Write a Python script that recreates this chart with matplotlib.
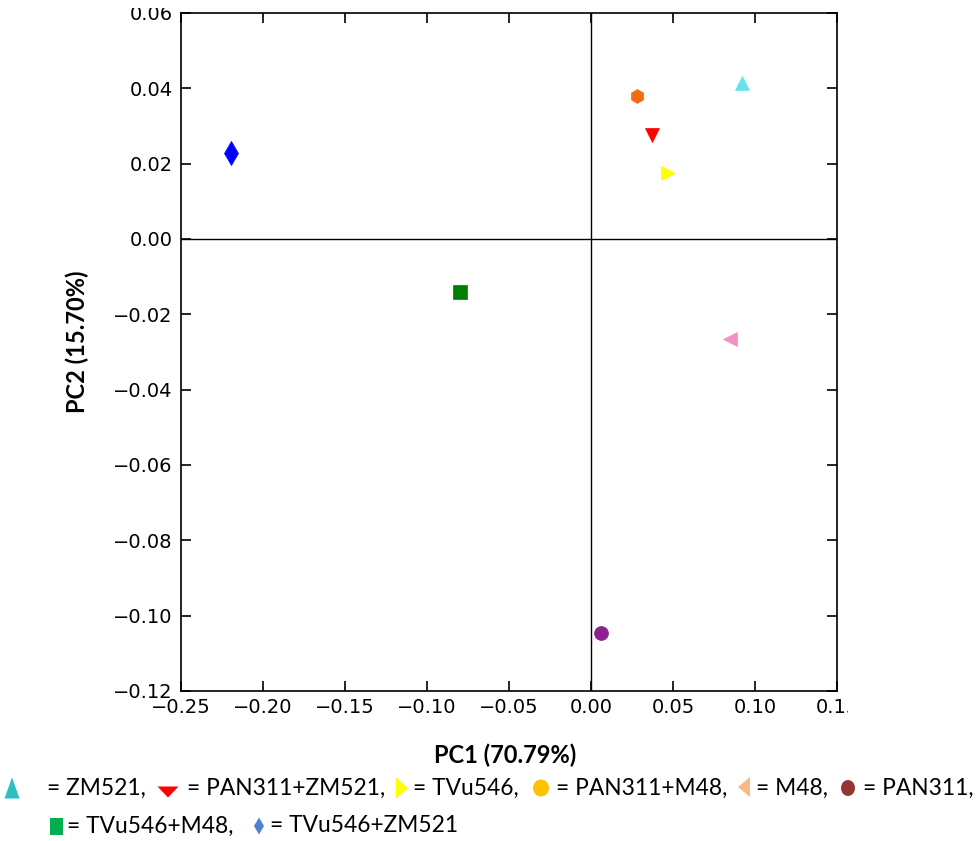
import matplotlib
matplotlib.use("Agg")
import matplotlib.pyplot as plt
from matplotlib.patches import Polygon, Ellipse
from matplotlib.transforms import Bbox, IdentityTransform

# ---- data ----
genotypes = ["ZM521", "PAN311+ZM521", "TVu546", "PAN311+M48", "M48", "PAN311",
             "TVu546+M48", "TVu546+ZM521"]
pc1 = [0.092, 0.037, 0.047, 0.028, 0.085, 0.006, -0.080, -0.2195]
pc2 = [0.0414, 0.0276, 0.0175, 0.038, -0.0266, -0.1046, -0.0141, 0.0228]
plot_colors = ["#66E3F2", "#FF0000", "#FFFF00", "#F26B0F", "#F58FC4", "#8E1F8E",
               "#007F00", "#0000FF"]
plot_markers = ["^", "v", ">", "h", "<", "o", "s", "d"]
legend_colors = ["#2DBFBF", "#FF0000", "#FFFF00", "#FFC000", "#F8B98A", "#943634",
                 "#00B050", "#4F81D0"]
xticks = [-0.25, -0.20, -0.15, -0.10, -0.05, 0.00, 0.05, 0.10, 0.15]
yticks = [-0.12, -0.10, -0.08, -0.06, -0.04, -0.02, 0.00, 0.02, 0.04, 0.06]
xlabel = "PC1 (70.79%)"
ylabel = "PC2 (15.70%)"

W, H = 976, 841
fig = plt.figure(figsize=(W / 100, H / 100), dpi=100)
ax = fig.add_axes([181 / W, 1 - 691 / H, 656 / W, 678 / H])

ax.axhline(0, color="black", lw=1.0, zorder=1)
ax.axvline(0, color="black", lw=1.0, zorder=1)
for x, y, c, m in zip(pc1, pc2, plot_colors, plot_markers):
    ms = 12 if m == "d" else 10
    ax.plot([x], [y], linestyle="none", marker=m, ms=ms, color=c,
            markeredgecolor=c, markeredgewidth=0.5, zorder=3)

ax.set_xlim(-0.25, 0.15)
ax.set_ylim(-0.12, 0.06)
ax.set_xticks(xticks)
ax.set_yticks(yticks)
ax.set_xticklabels([f"{v:.2f}".replace("-", "\u2212") for v in xticks])
ax.set_yticklabels([f"{v:.2f}".replace("-", "\u2212") for v in yticks])
ax.tick_params(direction="in", length=7, width=1.2, top=True, right=True,
               labelsize=14, colors="black")
ax.tick_params(axis="y", pad=6)
ax.tick_params(axis="x", pad=5)
for s in ax.spines.values():
    s.set_linewidth(1.2)
    s.set_color("black")

ax.set_xlabel(xlabel, fontsize=17, fontweight="bold", family=["Lato", "DejaVu Sans"],
              labelpad=19)
ax.set_ylabel(ylabel, fontsize=17, fontweight="bold", family=["Lato", "DejaVu Sans"],
              labelpad=17)
ax.xaxis.label.set_x(0.494)
ax.yaxis.label.set_y(0.515)

# clip tick labels cut in the reference image
xl = ax.get_xticklabels()[-1]
xl.set_clip_on(True)
xl.set_clip_box(Bbox([[0, 0], [848, H]]))
yl = ax.get_yticklabels()[-1]
yl.set_clip_on(True)
yl.set_clip_box(Bbox([[0, 0], [W, H - 8]]))

# ---- legend drawn below the plot (layout in pixels, top-left origin) ----
# (kind, centre x, centre y, width, height)
leg_keys = [
    ("up", 12, 788, 15, 21),
    ("down", 168, 792, 21, 11),
    ("right", 402, 788, 12, 21),
    ("ellipse", 541, 788, 16, 17),
    ("left", 744, 787, 12, 20),
    ("ellipse", 848, 788, 14, 16),
    ("rect", 56, 826, 13, 17),
    ("diamond", 259, 826, 10, 17),
]
text_x = [47, 187, 413, 556, 756, 863, 67, 270]
text_y = [788, 788, 788, 788, 788, 788, 826, 826]
lfont = dict(fontsize=16.4, family=["Lato", "DejaVu Sans"])


def key_patch(kind, cx, cy, w, h, color):
    cy = H - cy
    hw, hh = w / 2, h / 2
    pts = {
        "up": [(cx, cy + hh), (cx - hw, cy - hh), (cx + hw, cy - hh)],
        "down": [(cx, cy - hh), (cx - hw, cy + hh), (cx + hw, cy + hh)],
        "right": [(cx + hw, cy), (cx - hw, cy + hh), (cx - hw, cy - hh)],
        "left": [(cx - hw, cy), (cx + hw, cy + hh), (cx + hw, cy - hh)],
        "rect": [(cx - hw, cy - hh), (cx + hw, cy - hh), (cx + hw, cy + hh),
                 (cx - hw, cy + hh)],
        "diamond": [(cx, cy + hh), (cx - hw, cy), (cx, cy - hh), (cx + hw, cy)],
    }
    if kind == "ellipse":
        return Ellipse((cx, cy), w, h, transform=IdentityTransform(),
                       facecolor=color, edgecolor="none")
    return Polygon(pts[kind], closed=True, transform=IdentityTransform(),
                   facecolor=color, edgecolor="none")


for i, name in enumerate(genotypes):
    kind, cx, cy, w, h = leg_keys[i]
    fig.add_artist(key_patch(kind, cx, cy, w, h, legend_colors[i]))
    lab = "= " + name + ("," if i != len(genotypes) - 1 else "")
    fig.text(text_x[i] / W, 1 - text_y[i] / H, lab, ha="left", va="center", **lfont)

fig.savefig("out.png", dpi=100)
